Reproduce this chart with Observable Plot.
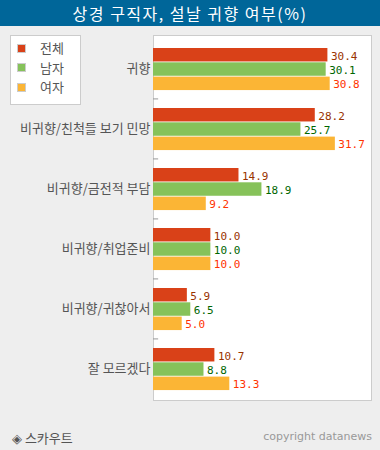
<!DOCTYPE html>
<html>
<head>
<meta charset="utf-8">
<script src="https://cdn.jsdelivr.net/npm/d3@7"></script>
<script src="https://cdn.jsdelivr.net/npm/@observablehq/plot@0.6"></script>
<style>
  html, body { margin: 0; padding: 0; background: #eeeeee; }
  #wrap { position: relative; width: 380px; height: 450px; background: #eeeeee; overflow: hidden; font-family: "Noto Sans CJK KR", sans-serif; }
  #title { position: absolute; left: 0; top: 0; width: 380px; height: 26px; background: #006699; color: #fff; font-size: 16px; line-height: 26px; text-align: center; letter-spacing: 1.5px; }
  #chart { position: absolute; left: 0; top: 28px; }
  #legend { position: absolute; left: 10px; top: 35px; width: 69px; height: 68px; background: #fff; border: 1px solid #cccccc; }
  .li { position: absolute; left: 6px; height: 16px; font-size: 13px; color: #555; line-height: 16px; }
  .sw { display: inline-block; width: 7px; height: 7px; border: 1px solid #ccc; vertical-align: middle; margin-right: 14px; position: relative; top: -1px; }
  #src { position: absolute; left: 12px; top: 428px; font-size: 13px; color: #555; font-weight: 400; }
  #copy { position: absolute; right: 8px; top: 430px; font-size: 11px; color: #999; font-family: "DejaVu Sans", Verdana, sans-serif; }
</style>
</head>
<body>
<div id="wrap">
  <div id="title">상경 구직자, 설날 귀향 여부(%)</div>
  <div id="chart"></div>
  <div id="legend"></div>
  <div id="src">◈ 스카우트</div>
  <div id="copy">copyright datanews</div>
</div>
<script>
const categories = ["귀향", "비귀향/친척들 보기 민망", "비귀향/금전적 부담", "비귀향/취업준비", "비귀향/귀찮아서", "잘 모르겠다"];
const seriesNames = ["전체", "남자", "여자"];
const total  = [30.4, 28.2, 14.9, 10.0, 5.9, 10.7];
const male   = [30.1, 25.7, 18.9, 10.0, 6.5, 8.8];
const female = [30.8, 31.7, 9.2, 10.0, 5.0, 13.3];

const seriesValues = [total, male, female];
const barColors = ["#d94118", "#86c25a", "#fbb535"];
const labelColors = ["#993300", "#006600", "#ff3300"];

const rows = seriesValues.map((vals, s) =>
  categories.map((c, i) => ({category: c, series: seriesNames[s], value: vals[i]}))
);

const H = 380, mTop = 7, mBottom = 8;
const band = (H - mTop - mBottom) / categories.length;
const barH = 14.3, offTop = 10;

const marks = [Plot.frame({fill: "#ffffff", stroke: "#cccccc"})];
rows.forEach((data, s) => {
  const top = offTop + barH * s;
  marks.push(Plot.barX(data, {
    x: "value", y: "category", fill: barColors[s],
    insetTop: top, insetBottom: band - top - barH
  }));
  marks.push(Plot.text(data, {
    x: "value", y: "category", text: d => d.value.toFixed(1),
    dx: 3, dy: top + barH / 2 - band / 2 + 1, textAnchor: "start",
    fill: labelColors[s], fontFamily: "DejaVu Sans Mono, monospace", fontSize: 11
  }));
});
marks.push(Plot.ruleY(categories.slice(0, -1), {
  y: d => d, x1: 0, x2: 0.9, dy: band / 2, stroke: "#999999"
}));
marks.push(Plot.axisY({tickSize: 0, tickPadding: 3, fontSize: 13}));

const chart = Plot.plot({
  width: 380, height: H,
  marginLeft: 153, marginRight: 9, marginTop: mTop, marginBottom: mBottom,
  x: {domain: [0, 38], axis: null},
  y: {domain: categories, padding: 0, label: null},
  style: {background: "transparent", color: "#555", fontFamily: "Noto Sans CJK KR, sans-serif", fontSize: "13px"},
  marks
});
document.getElementById("chart").appendChild(chart);

const legend = document.getElementById("legend");
seriesNames.forEach((n, i) => {
  const d = document.createElement("div");
  d.className = "li";
  d.style.top = (4 + i * 19.5) + "px";
  d.innerHTML = `<span class="sw" style="background:${barColors[i]}"></span>${n}`;
  legend.appendChild(d);
});
</script>
</body>
</html>
